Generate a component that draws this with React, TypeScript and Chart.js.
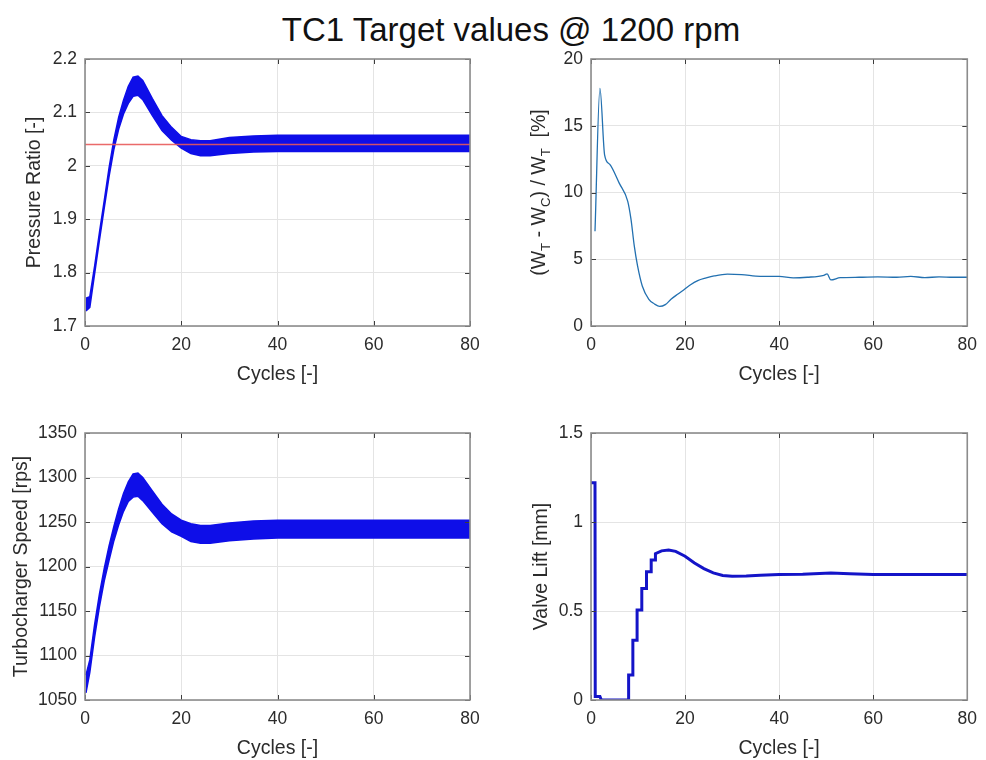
import React, { useEffect, useRef } from "react";
import { Chart, registerables } from "chart.js";

Chart.register(...registerables);

const FONT = "'Liberation Sans', Arial, Helvetica, sans-serif";
const TEXT = "#2b2b2b";
const GRID = "#e4e4e4";

// Shared x axis: engine cycles
const cycleTicks = [0, 20, 40, 60, 80];

// Compressor pressure ratio: envelope of the oscillating trace and its target
const prCycles = [0.2, 1, 2, 3, 4, 5, 6, 7, 8, 9, 10, 11, 12, 14, 16, 18, 20, 22, 24, 26, 30, 35, 40, 50, 60, 70, 80];
const prUpper = [1.752, 1.755, 1.812, 1.875, 1.935, 1.996, 2.049, 2.091, 2.123, 2.149, 2.166, 2.168, 2.16, 2.126, 2.094, 2.072, 2.055, 2.049, 2.047, 2.047, 2.053, 2.056, 2.057, 2.057, 2.057, 2.057, 2.057];
const prLower = [1.728, 1.735, 1.798, 1.861, 1.921, 1.98, 2.031, 2.069, 2.097, 2.117, 2.13, 2.132, 2.124, 2.094, 2.066, 2.048, 2.033, 2.023, 2.019, 2.019, 2.023, 2.026, 2.027, 2.027, 2.027, 2.027, 2.027];
const prTarget = 2.04;
const prTicks = [1.7, 1.8, 1.9, 2, 2.1, 2.2];
const prTickLabels = ["1.7", "1.8", "1.9", "2", "2.1", "2.2"];

// Turbine/compressor work balance (W_T - W_C) / W_T in percent
const wrCycles = [0.85, 1.9, 2.9, 4.0, 6.0, 7.8, 8.5, 9.2, 9.9, 10.9, 12.3, 13.5, 14.6, 15.8, 17, 18.5, 19.9, 21, 22.7, 24.5, 26.2, 29, 32, 36, 40, 43, 46, 49.5, 50.2, 51, 53, 57, 61, 65, 68, 71, 74, 77, 80];
const wrValues = [7.1, 17.8, 12.8, 12.1, 10.7, 9.35, 8.0, 6.0, 4.5, 3.0, 2.0, 1.65, 1.47, 1.6, 2.0, 2.4, 2.76, 3.05, 3.4, 3.6, 3.75, 3.88, 3.85, 3.72, 3.72, 3.6, 3.65, 3.8, 3.9, 3.45, 3.62, 3.65, 3.68, 3.65, 3.72, 3.62, 3.68, 3.65, 3.65];
const wrTicks = [0, 5, 10, 15, 20];
const wrTickLabels = ["0", "5", "10", "15", "20"];

// Turbocharger speed: envelope of the oscillating trace
const tsCycles = [0.2, 1, 2, 3, 4, 5, 6, 7, 8, 9, 10, 11, 12, 14, 16, 18, 20, 22, 24, 26, 30, 35, 40, 50, 60, 70, 80];
const tsUpper = [1078, 1095, 1135, 1169, 1198, 1223, 1245, 1265, 1282, 1295, 1304, 1305, 1300, 1285, 1270, 1259, 1252, 1248, 1246, 1246, 1249, 1251, 1252, 1252, 1252, 1252, 1252];
const tsLower = [1058, 1081, 1121, 1155, 1184, 1207, 1229, 1247, 1262, 1273, 1278, 1279, 1274, 1261, 1248, 1239, 1234, 1228, 1226, 1226, 1229, 1231, 1232, 1232, 1232, 1232, 1232];
const tsTicks = [1050, 1100, 1150, 1200, 1250, 1300, 1350];
const tsTickLabels = ["1050", "1100", "1150", "1200", "1250", "1300", "1350"];

// Wastegate valve lift
const vlCycles = [0, 0.85, 0.9, 1.9, 2.2, 8.0, 8.0, 8.9, 8.9, 9.8, 9.8, 10.8, 10.8, 11.8, 11.8, 12.8, 12.8, 13.7, 13.7, 15, 16.5, 18, 20, 22, 24, 26, 28, 30, 33, 36, 40, 45, 51, 55, 60, 70, 80];
const vlValues = [1.22, 1.22, 0.02, 0.02, 0, 0, 0.14, 0.14, 0.335, 0.335, 0.505, 0.505, 0.627, 0.627, 0.72, 0.72, 0.787, 0.787, 0.822, 0.838, 0.843, 0.835, 0.808, 0.77, 0.738, 0.714, 0.7, 0.695, 0.697, 0.701, 0.705, 0.707, 0.714, 0.709, 0.705, 0.705, 0.705];
const vlTicks = [0, 0.5, 1, 1.5];
const vlTickLabels = ["0", "0.5", "1", "1.5"];

const pts = (xs: number[], ys: number[]) => xs.map((x, i) => ({ x, y: ys[i] }));

// Axes box and inward tick marks
const framePlugin = {
  id: "frame",
  afterDatasetsDraw(chart: any) {
    const { ctx, chartArea: a, scales } = chart;
    ctx.save();
    ctx.strokeStyle = "#3c3c3c";
    ctx.lineWidth = 1;
    ctx.beginPath();
    for (const t of scales.x.ticks) {
      const px = Math.round(scales.x.getPixelForValue(t.value)) + 0.5;
      ctx.moveTo(px, a.bottom);
      ctx.lineTo(px, a.bottom - 5);
      ctx.moveTo(px, a.top);
      ctx.lineTo(px, a.top + 5);
    }
    for (const t of scales.y.ticks) {
      const py = Math.round(scales.y.getPixelForValue(t.value)) + 0.5;
      ctx.moveTo(a.left, py);
      ctx.lineTo(a.left + 5, py);
      ctx.moveTo(a.right, py);
      ctx.lineTo(a.right - 5, py);
    }
    ctx.stroke();
    ctx.strokeStyle = "#8c8c8c";
    ctx.lineWidth = 1.6;
    ctx.strokeRect(a.left, a.top, a.right - a.left, a.bottom - a.top);
    ctx.restore();
  },
};

type Run = { text: string; sub?: boolean };

// Rotated y-axis label with subscripts
const subLabelPlugin = (runs: Run[], centerX: number, size: number) => ({
  id: "subLabel",
  afterDraw(chart: any) {
    const { ctx, chartArea: a } = chart;
    const subSize = size * 0.68;
    ctx.save();
    ctx.fillStyle = TEXT;
    let total = 0;
    const widths = runs.map((r) => {
      ctx.font = `${r.sub ? subSize : size}px ${FONT}`;
      const w = ctx.measureText(r.text).width;
      total += w;
      return w;
    });
    ctx.translate(centerX, (a.top + a.bottom) / 2);
    ctx.rotate(-Math.PI / 2);
    ctx.textBaseline = "alphabetic";
    ctx.textAlign = "left";
    let x = -total / 2;
    const base = size * 0.36;
    runs.forEach((r, i) => {
      ctx.font = `${r.sub ? subSize : size}px ${FONT}`;
      ctx.fillText(r.text, x, r.sub ? base + size * 0.28 : base);
      x += widths[i];
    });
    ctx.restore();
  },
});

type PanelProps = {
  left: number;
  top: number;
  width: number;
  height: number;
  datasets: any[];
  yMin: number;
  yMax: number;
  yTicks: number[];
  yLabels: string[];
  yTitle?: string;
  yTitlePad: number;
  yWidth: number;
  padding: { top: number; right: number; bottom: number };
  extraPlugins?: any[];
};

function Panel(p: PanelProps) {
  const ref = useRef<HTMLCanvasElement | null>(null);
  useEffect(() => {
    if (!ref.current) return;
    const chart = new Chart(ref.current, {
      type: "line",
      data: { datasets: p.datasets },
      options: {
        animation: false,
        responsive: false,
        events: [],
        layout: { padding: { left: 0, top: p.padding.top, right: p.padding.right, bottom: p.padding.bottom } },
        plugins: { legend: { display: false }, tooltip: { enabled: false }, title: { display: false } },
        elements: { point: { radius: 0 }, line: { tension: 0 } },
        scales: {
          x: {
            type: "linear",
            min: 0,
            max: 80,
            afterBuildTicks: (s: any) => {
              s.ticks = cycleTicks.map((v) => ({ value: v }));
            },
            afterFit: (s: any) => {
              s.height = 60;
            },
            ticks: {
              autoSkip: false,
              maxRotation: 0,
              padding: 9,
              color: TEXT,
              font: { family: FONT, size: 17.5 },
              callback: (v: any) => String(v),
            },
            grid: { color: GRID, lineWidth: 1, drawTicks: false },
            border: { display: false },
            title: { display: true, text: "Cycles [-]", color: TEXT, padding: 0, font: { family: FONT, size: 19.5 } },
          },
          y: {
            type: "linear",
            min: p.yMin,
            max: p.yMax,
            afterBuildTicks: (s: any) => {
              s.ticks = p.yTicks.map((v) => ({ value: v }));
            },
            afterFit: (s: any) => {
              s.width = p.yWidth;
            },
            ticks: {
              autoSkip: false,
              padding: 8,
              color: TEXT,
              font: { family: FONT, size: 17.5 },
              callback: (_v: any, i: number) => p.yLabels[i],
            },
            grid: { color: GRID, lineWidth: 1, drawTicks: false },
            border: { display: false },
            title: {
              display: !!p.yTitle,
              text: p.yTitle || "",
              color: TEXT,
              padding: { top: p.yTitlePad, bottom: 0 },
              font: { family: FONT, size: 19.5 },
            },
          },
        },
      } as any,
      plugins: [framePlugin, ...(p.extraPlugins || [])],
    });
    return () => chart.destroy();
  }, []);
  return (
    <canvas
      ref={ref}
      width={p.width}
      height={p.height}
      style={{ position: "absolute", left: p.left, top: p.top, width: p.width, height: p.height }}
    />
  );
}

const BAND = "rgb(14,14,232)";

export default function App() {
  const prSets = [
    { data: [{ x: 0, y: prTarget }, { x: 80, y: prTarget }], borderColor: "rgba(232,90,90,0.9)", borderWidth: 1.5, fill: false, order: 0 },
    { data: pts(prCycles, prUpper), borderColor: BAND, borderWidth: 1.5, backgroundColor: BAND, fill: "+1", order: 1 },
    { data: pts(prCycles, prLower), borderColor: BAND, borderWidth: 1.5, fill: false, order: 1 },
  ];
  const wrSets = [
    { data: pts(wrCycles, wrValues), borderColor: "#2270b0", borderWidth: 1.3, fill: false, cubicInterpolationMode: "monotone" },
  ];
  const tsSets = [
    { data: pts(tsCycles, tsUpper), borderColor: BAND, borderWidth: 1.5, backgroundColor: BAND, fill: "+1" },
    { data: pts(tsCycles, tsLower), borderColor: BAND, borderWidth: 1.5, fill: false },
  ];
  const vlSets = [{ data: pts(vlCycles, vlValues), borderColor: "#1414c8", borderWidth: 3, fill: false }];

  const wrLabel: Run[] = [
    { text: "(W" },
    { text: "T", sub: true },
    { text: " - W" },
    { text: "C", sub: true },
    { text: ") / W" },
    { text: "T", sub: true },
    { text: "  [%]" },
  ];

  return (
    <div style={{ position: "absolute", left: 0, top: 0, width: 986, height: 760, background: "#fff", overflow: "hidden" }}>
      <div
        style={{
          position: "absolute",
          left: 211,
          top: 13,
          width: 600,
          textAlign: "center",
          fontFamily: FONT,
          fontSize: 33,
          lineHeight: "33px",
          color: "#111",
          whiteSpace: "nowrap",
        }}
      >
        TC1 Target values @ 1200 rpm
      </div>
      <Panel
        left={0}
        top={40}
        width={490}
        height={360}
        datasets={prSets}
        yMin={1.7}
        yMax={2.2}
        yTicks={prTicks}
        yLabels={prTickLabels}
        yTitle="Pressure Ratio [-]"
        yTitlePad={23}
        yWidth={85}
        padding={{ top: 19, right: 20, bottom: 14 }}
      />
      <Panel
        left={496}
        top={40}
        width={490}
        height={360}
        datasets={wrSets}
        yMin={0}
        yMax={20}
        yTicks={wrTicks}
        yLabels={wrTickLabels}
        yTitlePad={0}
        yWidth={95}
        padding={{ top: 19, right: 11, bottom: 14 }}
        extraPlugins={[subLabelPlugin(wrLabel, 42, 19.5)]}
      />
      <Panel
        left={0}
        top={410}
        width={490}
        height={350}
        datasets={tsSets}
        yMin={1050}
        yMax={1350}
        yTicks={tsTicks}
        yLabels={tsTickLabels}
        yTitle="Turbocharger Speed [rps]"
        yTitlePad={10}
        yWidth={85}
        padding={{ top: 23, right: 20, bottom: 0 }}
      />
      <Panel
        left={496}
        top={410}
        width={490}
        height={350}
        datasets={vlSets}
        yMin={0}
        yMax={1.5}
        yTicks={vlTicks}
        yLabels={vlTickLabels}
        yTitle="Valve Lift [mm]"
        yTitlePad={34}
        yWidth={95}
        padding={{ top: 23, right: 11, bottom: 0 }}
      />
    </div>
  );
}
